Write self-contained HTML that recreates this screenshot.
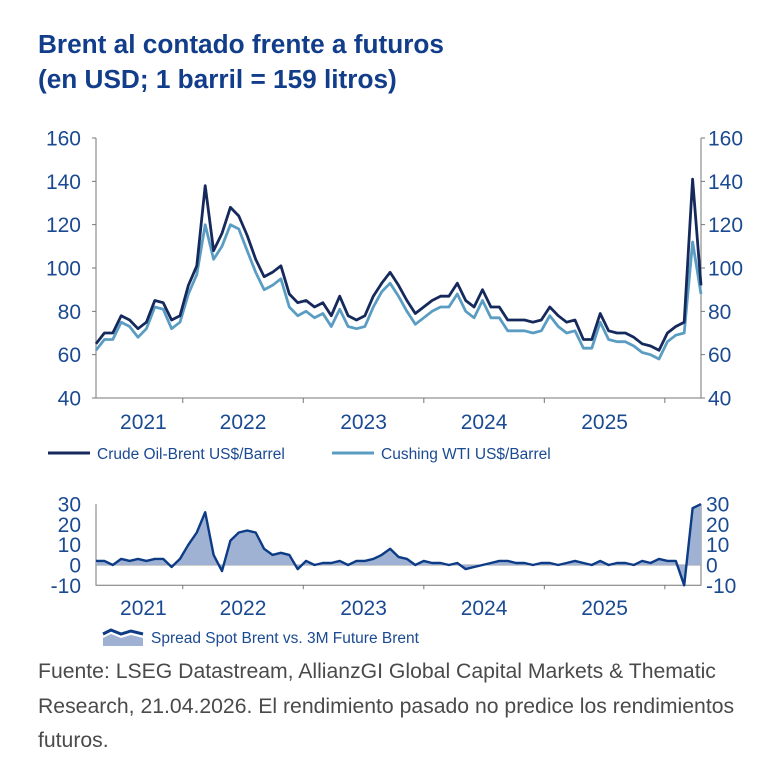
<!DOCTYPE html>
<html><head><meta charset="utf-8"><style>
body{margin:0;background:#fff;width:775px;height:765px;overflow:hidden;font-family:"Liberation Sans",sans-serif}
.t{position:absolute;left:38px;color:#123d8a;font-weight:bold;font-size:26.2px}
.f{position:absolute;left:38px;color:#4a4a4a;font-size:21.2px;line-height:34.5px;width:728px}
</style></head><body>
<div class="t" style="top:29px">Brent al contado frente a futuros</div>
<div class="t" style="top:64px">(en USD; 1 barril = 159 litros)</div>
<svg id="c" width="775" height="765" style="position:absolute;left:0;top:0" font-family="Liberation Sans, sans-serif"></svg>
<div class="f" style="top:655px">Fuente: LSEG Datastream, AllianzGI Global Capital Markets &amp; Thematic Research, 21.04.2026. El rendimiento pasado no predice los rendimientos futuros.</div>
<script>
const brent=[65,70,70,78,76,72,75,85,84,76,78,92,101,138,108,116,128,124,115,104,96,98,101,88,84,85,82,84,78,87,78,76,78,87,93,98,92,85,79,82,85,87,87,93,85,82,90,82,82,76,76,76,75,76,82,78,75,76,67,67,79,71,70,70,68,65,64,62,70,73,75,141,92];
const wti=[62,67,67,75,73,68,72,82,81,72,75,88,97,120,104,110,120,118,108,98,90,92,95,82,78,80,77,79,73,81,73,72,73,82,89,93,87,80,74,77,80,82,82,88,80,77,85,77,77,71,71,71,70,71,78,73,70,71,63,63,75,67,66,66,64,61,60,58,66,69,70,112,88];
const spread=[2,2,0,3,2,3,2,3,3,-1,3,10,16,26,5,-3,12,16,17,16,8,5,6,5,-2,2,0,1,1,2,0,2,2,3,5,8,4,3,0,2,1,1,0,1,-2,-1,0,1,2,2,1,1,0,1,1,0,1,2,1,0,2,0,1,1,0,2,1,3,2,2,-10,28,30];
const years=["2021","2022","2023","2024","2025"];
const topTicks=[40,60,80,100,120,140,160];
const botTicks=[-10,0,10,20,30];
const tStart=2021.28, tEnd=2026.3;
const NS="http://www.w3.org/2000/svg", svg=document.getElementById('c');
function mk(tag,at,txt){const e=document.createElementNS(NS,tag);for(const k in at)e.setAttribute(k,at[k]);if(txt!=null)e.textContent=txt;svg.appendChild(e);return e;}
const X0=96,X1=701;
const tx=t=>X0+(t-tStart)/(tEnd-tStart)*(X1-X0);
const ix=i=>tx(tStart+i/(brent.length-1)*(tEnd-tStart));
const yT=v=>398-(v-40)/120*260;
const yB=v=>565-v*2.03;
const col='#1b4a92';
let e=mk('path',{d:`M${X0} ${yT(160)}V${yT(40)}H${X1}V${yT(160)}`,fill:'none',stroke:'#777','stroke-width':1});

topTicks.forEach(v=>{
 e=mk('text',{x:81,y:yT(v)+7.5,'text-anchor':'end','font-size':21,fill:col},v);
 
 e=mk('text',{x:708,y:yT(v)+7.5,'font-size':21,fill:col},v);
 
 mk('path',{d:`M${X0-4} ${yT(v)}h4M${X1} ${yT(v)}h4`,stroke:'#777'});
});
years.forEach((y,k)=>{
 const yr=+y;const a=Math.max(tx(yr),X0),b=tx(yr+1);
 mk('path',{d:`M${tx(yr+1)} ${yT(40)}v5M${tx(yr+1)} ${yB(-10)}v4`,stroke:'#777'});
 e=mk('text',{x:(a+b)/2+(k==0?4:0),y:429,'text-anchor':'middle','font-size':21,fill:col},y);
 
 e=mk('text',{x:(a+b)/2+(k==0?4:0),y:615,'text-anchor':'middle','font-size':21,fill:col},y);
 
});
const line=(arr,fy)=>arr.map((v,i)=>(i?'L':'M')+ix(i).toFixed(1)+' '+fy(v).toFixed(1)).join('');
e=mk('path',{d:line(wti,yT),fill:'none',stroke:'#5b9dc2','stroke-width':2.8,'stroke-linejoin':'round'});

e=mk('path',{d:line(brent,yT),fill:'none',stroke:'#15295c','stroke-width':2.8,'stroke-linejoin':'round'});

mk('path',{d:'M48 453h42',stroke:'#15295c','stroke-width':3});
e=mk('text',{x:97,y:459,'font-size':15.5,fill:col},'Crude Oil-Brent US$/Barrel');

mk('path',{d:'M332 453h42',stroke:'#5b9dc2','stroke-width':3});
e=mk('text',{x:381,y:459,'font-size':15.5,fill:col},'Cushing WTI US$/Barrel');

e=mk('path',{d:`M${X0} ${yB(30)}V${yB(-10)}H${X1}V${yB(30)}`,fill:'none',stroke:'#777'});

botTicks.forEach(v=>{
 e=mk('text',{x:81,y:yB(v)+7.5,'text-anchor':'end','font-size':21,fill:col},v);
 
 e=mk('text',{x:706,y:yB(v)+7.5,'font-size':21,fill:col},v);
 
});
mk('path',{d:`M${X0} ${yB(0)}H${X1}`,stroke:'#999'});
e=mk('path',{d:line(spread,yB)+`L${ix(spread.length-1)} ${yB(0)}L${ix(0)} ${yB(0)}Z`,fill:'#9fb2d3',stroke:'none'});

e=mk('path',{d:line(spread,yB),fill:'none',stroke:'#0d3b85','stroke-width':2.4,'stroke-linejoin':'round'});

mk('path',{d:'M103 638l8-4l10 4l10-3l12 3V646H103Z',fill:'#9fb2d3'});
mk('path',{d:'M103 634l8-4l10 4l10-3l12 3',fill:'none',stroke:'#0d3b85','stroke-width':3});
e=mk('text',{x:151,y:643,'font-size':15.5,fill:col},'Spread Spot Brent vs. 3M Future Brent');

</script>
</body></html>
